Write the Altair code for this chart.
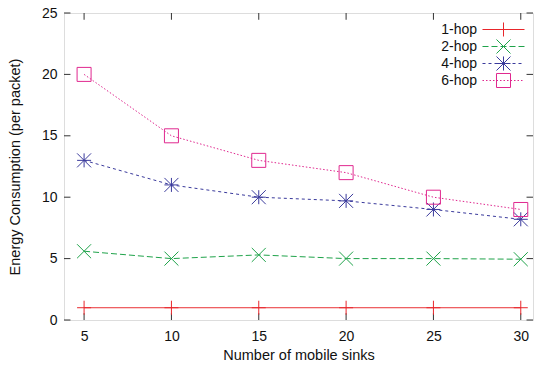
import altair as alt
import pandas as pd

# ---- data ----
x_vals = [5, 10, 15, 20, 25, 30]
hop1 = [1.0, 1.0, 1.0, 1.0, 1.0, 1.0]
hop2 = [5.6, 5.0, 5.3, 5.0, 5.0, 4.95]
hop4 = [13.0, 11.0, 10.0, 9.7, 9.0, 8.2]
hop6 = [20.0, 15.0, 13.0, 12.0, 10.0, 9.0]
series_names = ["1-hop", "2-hop", "4-hop", "6-hop"]
x_ticks = [5, 10, 15, 20, 25, 30]
y_ticks = [0, 5, 10, 15, 20, 25]

XMIN, XMAX = 3.85, 30.7
YMIN, YMAX = 0, 25

colors = ["#e8262b", "#1fa34a", "#3a3a9c", "#e0288f"]
dashes = [[1, 0], [6, 3], [3, 3], [1.5, 2]]
FONT = "Liberation Sans"


def marker_path(kind, s=1.0):
    a = f"{s:.3f}"
    n = f"{-s:.3f}"
    if kind == "plus":
        return f"M{n},0L{a},0M0,{n}L0,{a}"
    if kind == "x":
        return f"M{n},{n}L{a},{a}M{n},{a}L{a},{n}"
    if kind == "aster":
        return (f"M{n},0L{a},0M0,{n}L0,{a}"
                f"M{n},{n}L{a},{a}M{n},{a}L{a},{n}")
    return f"M{n},{n}L{a},{n}L{a},{a}L{n},{a}Z"


kinds = ["plus", "x", "aster", "square"]
markers = [marker_path(k) for k in kinds]


def dashed_line(on, off, half):
    if off == 0:
        return f"M{-half:.3f},0L{half:.3f},0"
    parts = []
    p = -half
    while p < half:
        e = min(p + on, half)
        parts.append(f"M{p:.3f},0L{e:.3f},0")
        p = e + off
    return "".join(parts)


LEG_SIZE = 81                      # legend symbol area
r_px = LEG_SIZE ** 0.5 / 2         # px per path unit
k = 7.0 / r_px                     # marker half-size in path units
legend_paths = [
    dashed_line(d[0] / r_px, d[1] / r_px, 21.0 / r_px) + marker_path(kd, k)
    for d, kd in zip(dashes, kinds)
]

series_vals = [hop1, hop2, hop4, hop6]
rows = []
for name, vals in zip(series_names, series_vals):
    for xv, yv in zip(x_vals, vals):
        rows.append({"series": name, "x": xv, "y": yv})
df = pd.DataFrame(rows)

xs = alt.Scale(domain=[XMIN, XMAX], nice=False, zero=False)
ys = alt.Scale(domain=[YMIN, YMAX], nice=False, zero=False)
xaxis = alt.Axis(values=x_ticks, tickSize=0, domain=False, grid=False,
                 labelPadding=9, titlePadding=5, labelFontSize=14,
                 titleFontSize=14.5, labelFont=FONT, titleFont=FONT,
                 labelColor="#111", titleColor="#111", titleFontWeight="normal",
                 labelFlush=False)
yaxis = alt.Axis(values=y_ticks, tickSize=0, domain=False, grid=False,
                 labelPadding=7, titlePadding=19, labelFontSize=14,
                 titleFontSize=14.5, labelFont=FONT, titleFont=FONT,
                 labelColor="#111", titleColor="#111", titleFontWeight="normal",
                 labelFlush=False)
X = alt.X("x:Q", scale=xs, axis=xaxis, title="Number of mobile sinks")
Y = alt.Y("y:Q", scale=ys, axis=yaxis, title="Energy Consumption (per packet)")

# inward ticks on all four sides
tl_y = 0.55
tl_x = 0.37
tick_rows = []
for t in x_ticks:
    tick_rows.append({"x": t, "x2": t, "y": YMIN, "y2": YMIN + tl_y})
    tick_rows.append({"x": t, "x2": t, "y": YMAX, "y2": YMAX - tl_y})
for t in y_ticks:
    tick_rows.append({"x": XMIN, "x2": XMIN + tl_x, "y": t, "y2": t})
    tick_rows.append({"x": XMAX, "x2": XMAX - tl_x, "y": t, "y2": t})
ticks_df = pd.DataFrame(tick_rows)

ticks = alt.Chart(ticks_df).mark_rule(color="#333", strokeWidth=1).encode(
    x=X, x2="x2:Q", y=Y, y2="y2:Q"
)

layers = [ticks]
for i, name in enumerate(series_names):
    sub = df[df["series"] == name]
    line = alt.Chart(sub).mark_line(
        color=colors[i], strokeWidth=1, strokeDash=dashes[i]
    ).encode(x=X, y=Y)
    pts = alt.Chart(sub).mark_point(
        shape=markers[i], size=196, filled=False, color=colors[i],
        strokeWidth=1, opacity=1
    ).encode(x=X, y=Y)
    layers += [line, pts]

color_list = ",".join(f"'{c}'" for c in colors)
name_list = ",".join(f"'{n}'" for n in series_names)
stroke_expr = f"[{color_list}][indexof([{name_list}], datum.value)]"

half_w = LEG_SIZE ** 0.5 / 2
leg = alt.Legend(
    title=None, orient="none", legendX=437 - half_w, legendY=14 - half_w,
    padding=0, symbolSize=LEG_SIZE, symbolStrokeWidth=1, labelAlign="right",
    labelOffset={"expr": str(-(2 * half_w + 21 + 8 - half_w))},
    labelFont=FONT, labelFontSize=14, labelColor="#111",
    rowPadding={"expr": "-9.5"},
    symbolOpacity=1, symbolStrokeColor={"expr": stroke_expr},
)
legend_layer = alt.Chart(df).mark_point(
    filled=False, opacity=1, strokeOpacity=0, size=LEG_SIZE
).encode(
    x=X, y=Y,
    color=alt.Color("series:N", scale=alt.Scale(domain=series_names, range=colors), legend=leg),
    shape=alt.Shape("series:N", scale=alt.Scale(domain=series_names, range=legend_paths), legend=leg),
)
layers.append(legend_layer)

chart = alt.layer(*layers).properties(
    width=469, height=307,
    autosize=alt.AutoSizeParams(type="none"),
    padding={"left": 64, "top": 13, "right": 5, "bottom": 48},
).configure_view(stroke="#222", strokeWidth=1.5).configure(background="white")

chart.save("out.html", embed_options={"renderer": "svg", "actions": False})
